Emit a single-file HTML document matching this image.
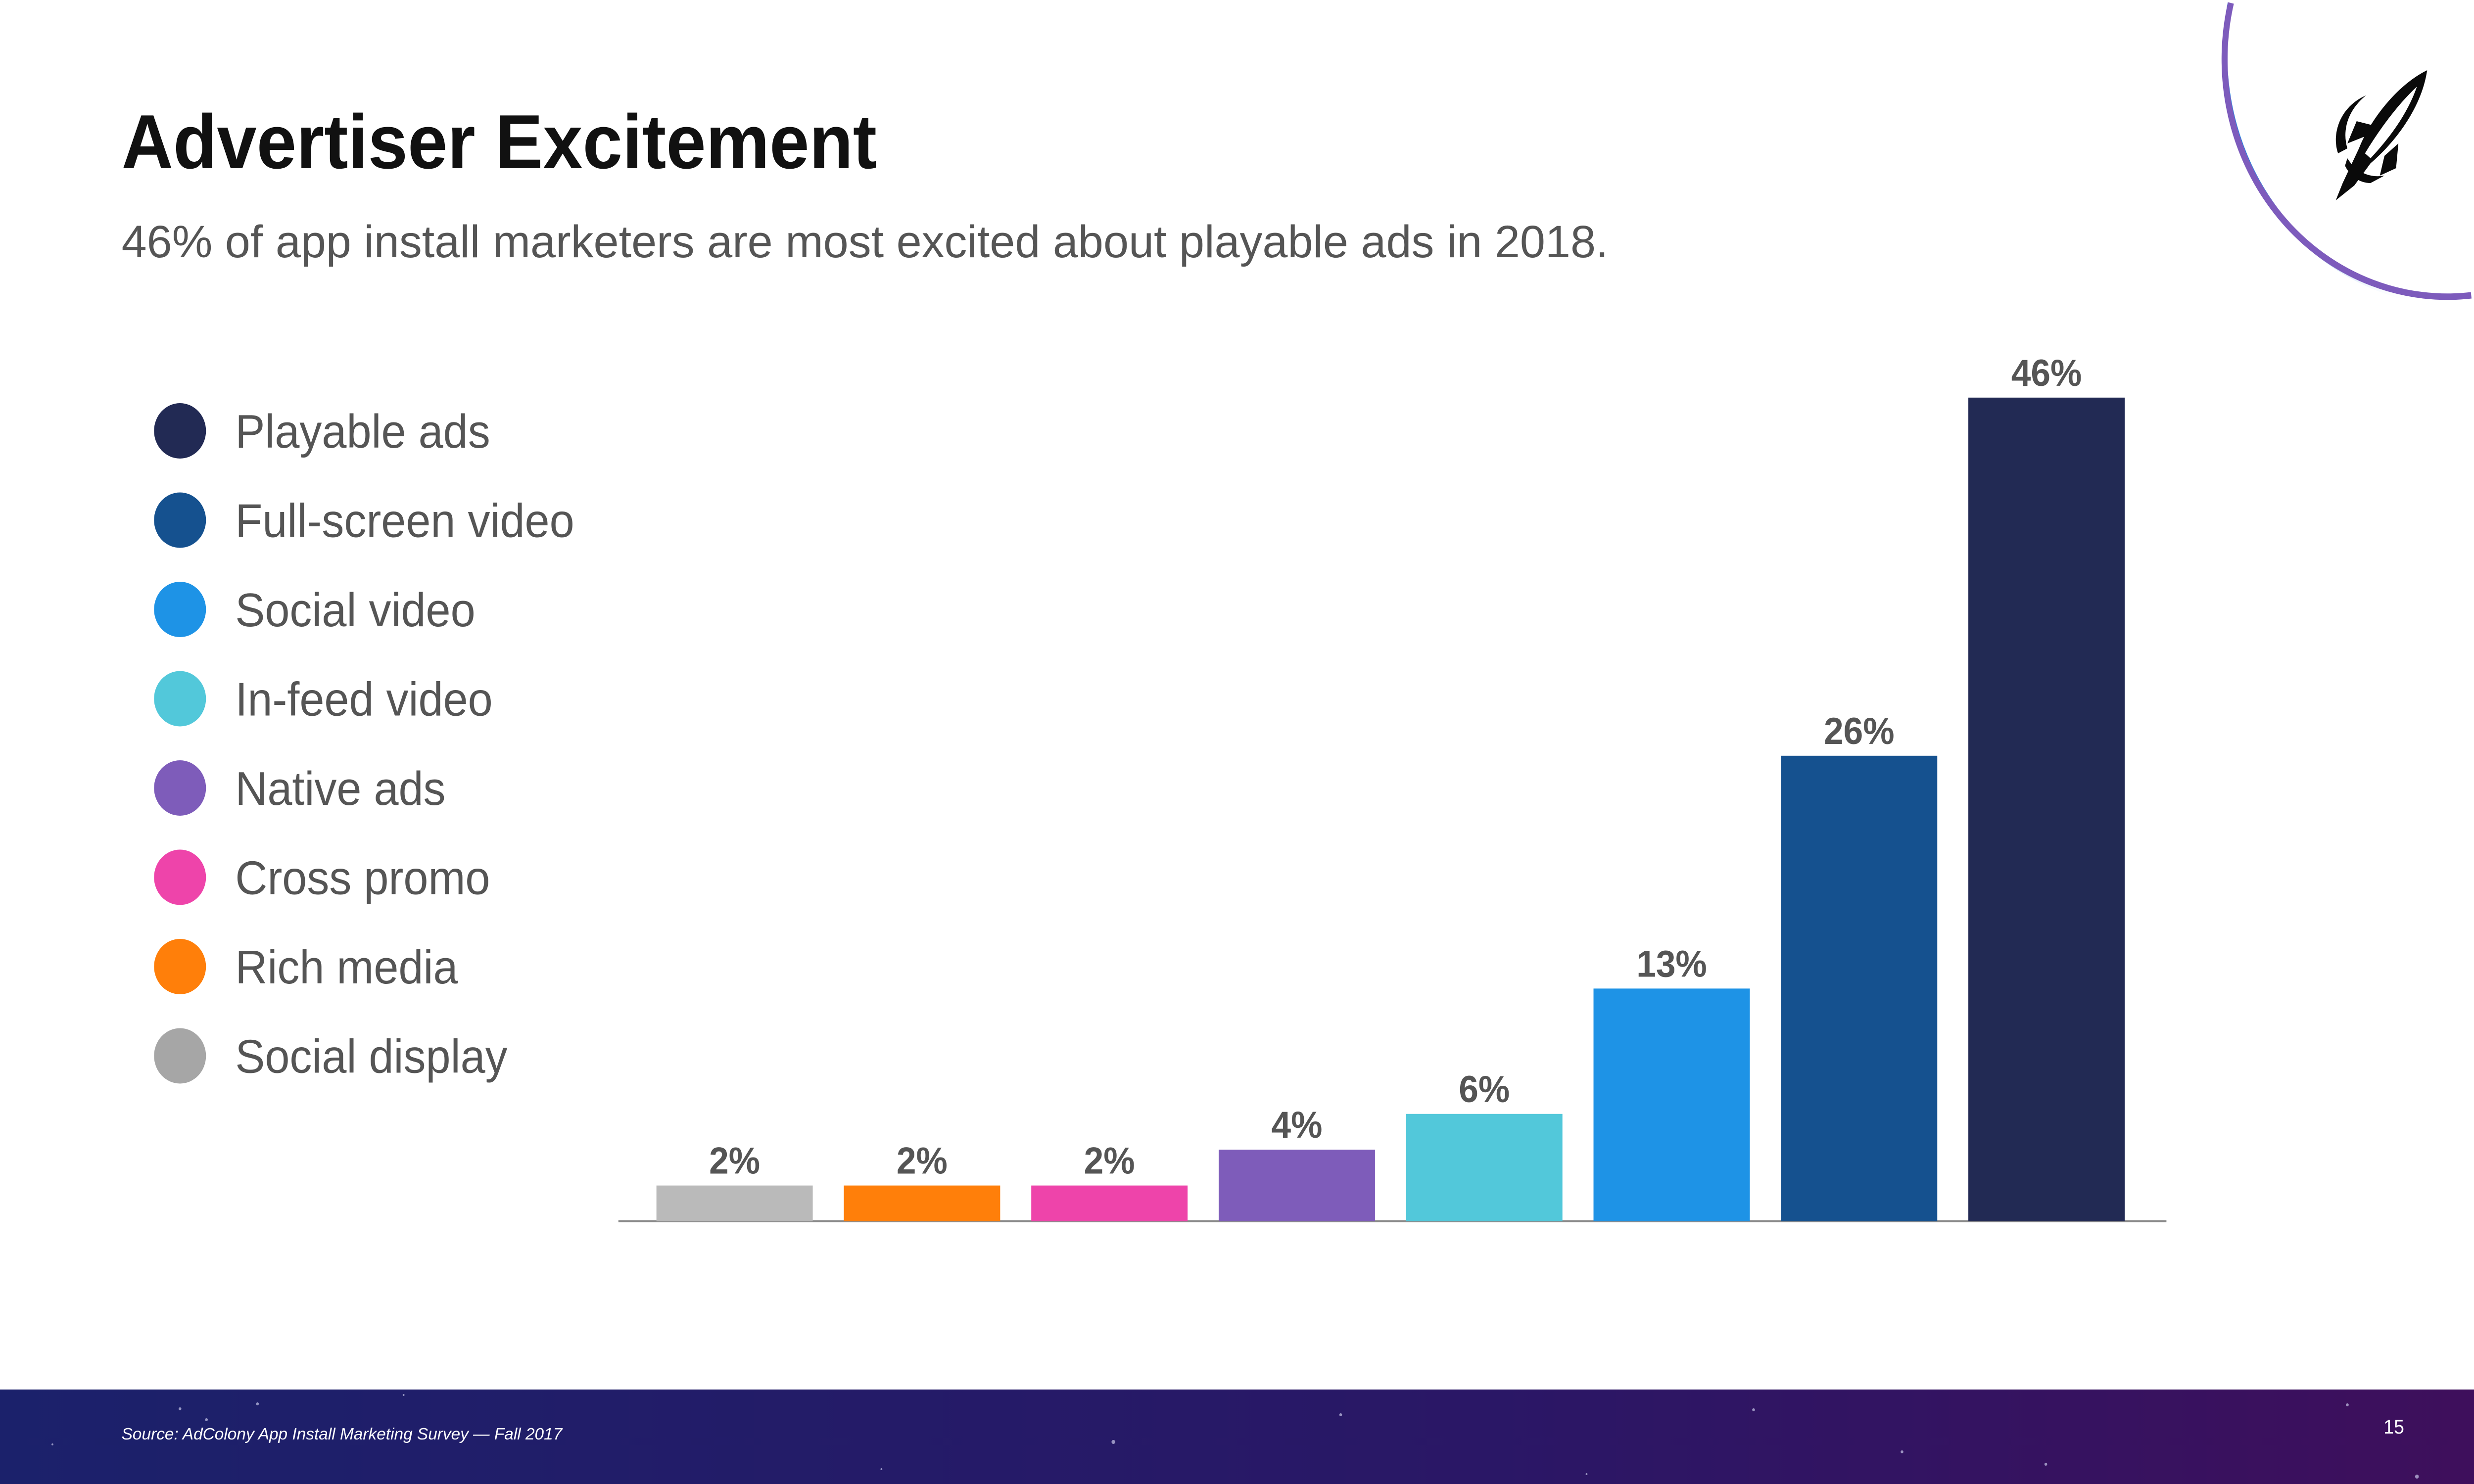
<!DOCTYPE html>
<html><head><meta charset="utf-8"><style>
html,body{margin:0;padding:0;background:#fff;width:100%;height:100%;overflow:hidden;}
svg{display:block;font-family:"Liberation Sans",sans-serif;overflow:hidden;width:100vw;height:100vh;}
</style></head><body>
<svg id="chart" viewBox="0 0 5333 3000" preserveAspectRatio="none" overflow="hidden" xmlns="http://www.w3.org/2000/svg">
<defs>
<linearGradient id="foot" x1="0" y1="0" x2="1" y2="0">
<stop offset="0" stop-color="#1b216b"/><stop offset="0.6" stop-color="#2a1766"/><stop offset="1" stop-color="#3e0f5c"/>
</linearGradient>
<linearGradient id="arcBlue" gradientUnits="userSpaceOnUse" x1="4800" y1="0" x2="5200" y2="614">
<stop offset="0" stop-color="#1a7fe0"/><stop offset="0.55" stop-color="#2f88e0"/><stop offset="1" stop-color="#ffffff" stop-opacity="0"/>
</linearGradient>
</defs>
<rect width="5333" height="3000" fill="#fff"/>
<g>
<path d="M4807,6 A505,505 0 0 0 5327,614" fill="none" stroke="url(#arcBlue)" stroke-width="10"/>
<path d="M4809,6 A480,480 0 0 0 5327,597" fill="none" stroke="#7d5bbc" stroke-width="13"/>
<g fill="#0a0a0a">
<path d="M5232,142 C5170,170 5110,240 5085,300 L5050,370 5035,405 5075,375 5110,330 C5160,290 5220,220 5232,142 Z M5210,175 C5190,230 5150,280 5110,320 L5098,310 C5130,260 5170,210 5210,175 Z"/>
<path d="M5100,193 C5045,215 5025,270 5040,310 L5060,300 C5048,262 5062,222 5100,193 Z"/>
<path d="M5080,245 L5122,255 5100,275 5060,290 Z"/>
<path d="M5170,290 L5165,340 5130,355 5140,315 Z"/>
<path d="M5060,320 C5080,350 5110,360 5140,355 L5110,370 C5085,370 5065,355 5055,335 Z"/>
</g>
</g>
<text x="262" y="340" font-size="155" font-weight="bold" fill="#111" textLength="1628" lengthAdjust="spacingAndGlyphs">Advertiser Excitement</text>
<text x="262" y="520" font-size="92" fill="#555" textLength="3205" lengthAdjust="spacingAndGlyphs">46% of app install marketers are most excited about playable ads in 2018.</text>
<g id="legend"></g>
<line x1="1333" y1="2469" x2="4670" y2="2469" stroke="#888" stroke-width="4"/>
<g id="bars"></g>
<g>
<rect x="0" y="2809" width="5333" height="191" fill="url(#foot)"/>
<g fill="#c8c8e8" opacity="0.7">
<circle cx="388" cy="2848" r="3"/><circle cx="555" cy="2838" r="3"/><circle cx="445" cy="2870" r="3"/><circle cx="113" cy="2920" r="2"/><circle cx="870" cy="2820" r="2"/><circle cx="2400" cy="2915" r="4"/><circle cx="2890" cy="2860" r="3"/><circle cx="3780" cy="2850" r="3"/><circle cx="4100" cy="2935" r="3"/><circle cx="4410" cy="2960" r="3"/><circle cx="5060" cy="2840" r="3"/><circle cx="5210" cy="2985" r="4"/><circle cx="1900" cy="2970" r="2"/><circle cx="3420" cy="2980" r="2"/>
</g>
<text x="262" y="2910" font-size="33" font-style="italic" fill="#fff" textLength="950" lengthAdjust="spacingAndGlyphs">Source:  AdColony App Install Marketing Survey — Fall 2017</text>
<text x="5138" y="2898" font-size="40" fill="#fff">15</text>
</g>
</svg>
<script>
const categories = ["Social display","Rich media","Cross promo","Native ads","In-feed video","Social video","Full-screen video","Playable ads"];
const values = [2,2,2,4,6,13,26,46];
const labels = ["2%","2%","2%","4%","6%","13%","26%","46%"];
const colors = ["#bababa","#ff7f0a","#ee44aa","#7e5cba","#52c8da","#1e93e6","#15518f","#222a54"];
const legendNames = ["Playable ads","Full-screen video","Social video","In-feed video","Native ads","Cross promo","Rich media","Social display"];
const legendColors = ["#222a54","#15518f","#1e93e6","#52c8da","#7e5cba","#ee44aa","#ff7f0a","#a6a6a6"];
const NS = "http://www.w3.org/2000/svg";
const baseY = 2469, perUnit = 36.2, x0 = 1415, step = 404, bw = 337;
function xPos(i){ return x0 + i*step; }
function yPos(v){ return baseY - v*perUnit; }
const bars = document.getElementById("bars");
values.forEach((v,i)=>{
  const r = document.createElementNS(NS,"rect");
  r.setAttribute("x", xPos(i)); r.setAttribute("y", yPos(v));
  r.setAttribute("width", bw); r.setAttribute("height", baseY - yPos(v));
  r.setAttribute("fill", colors[i]);
  
  
  bars.appendChild(r);
  const t = document.createElementNS(NS,"text");
  t.setAttribute("x", xPos(i) + bw/2); t.setAttribute("y", yPos(v) - 24);
  t.setAttribute("text-anchor","middle"); t.setAttribute("font-size","76");
  t.setAttribute("font-weight","bold"); t.setAttribute("fill","#555");
  t.textContent = labels[i];
  
  
  bars.appendChild(t);
});
const legend = document.getElementById("legend");
legendNames.forEach((n,i)=>{
  const cy = 871 + i*180.5;
  const c = document.createElementNS(NS,"circle");
  c.setAttribute("cx",388); c.setAttribute("cy",cy); c.setAttribute("r",56);
  c.setAttribute("fill", legendColors[i]);
  
  
  legend.appendChild(c);
  const t = document.createElementNS(NS,"text");
  t.setAttribute("x",507); t.setAttribute("y",cy+34);
  t.setAttribute("font-size","96"); t.setAttribute("fill","#555");
  t.textContent = n;
  
  
  legend.appendChild(t);
});
</script>
</body></html>
